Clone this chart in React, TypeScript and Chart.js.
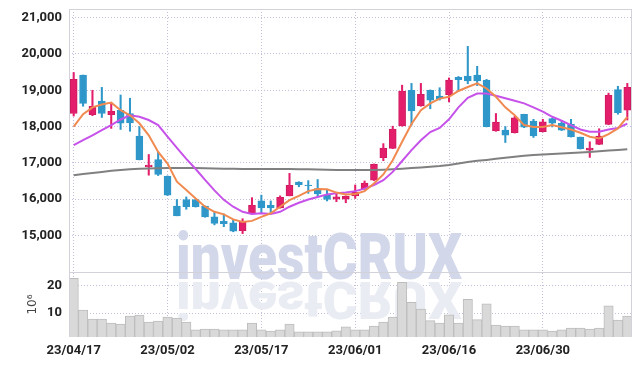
import { useEffect, useRef } from 'react';
import { Chart, registerables } from 'chart.js';
Chart.register(...registerables);

const dates = [
  '23/04/17','23/04/18','23/04/19','23/04/20','23/04/21','23/04/24','23/04/25','23/04/26','23/04/27','23/04/28',
  '23/05/02','23/05/03','23/05/04','23/05/08','23/05/09','23/05/10','23/05/11','23/05/12','23/05/15','23/05/16',
  '23/05/17','23/05/18','23/05/19','23/05/22','23/05/23','23/05/24','23/05/25','23/05/26','23/05/30','23/05/31',
  '23/06/01','23/06/02','23/06/05','23/06/07','23/06/08','23/06/09','23/06/12','23/06/13','23/06/14','23/06/15',
  '23/06/16','23/06/19','23/06/20','23/06/21','23/06/22','23/06/23','23/06/26','23/06/27','23/06/28','23/06/29',
  '23/06/30','23/07/03','23/07/04','23/07/05','23/07/06','23/07/07','23/07/10','23/07/11','23/07/12','23/07/13',
];

const opens = [
  18360, 19420, 18330, 18700, 18330, 18450, 18360, 17740, 16890, 17090,
  16630, 15810, 15990, 15990, 15810, 15510, 15390, 15350, 15130, 15600,
  15950, 15830, 15760, 16090, 16470, 16390, 16290, 16110, 16000, 16000,
  16090, 16280, 16520, 17140, 17400, 18020, 19000, 18570, 19000, 18840,
  18880, 19360, 19390, 19420, 19280, 17880, 17900, 17830, 18340, 18150,
  17860, 18220, 18090, 18060, 17710, 17350, 17510, 18060, 19020, 18450,
];
const highs = [
  19490, 19420, 19000, 19080, 18650, 18870, 18780, 18000, 17230, 17300,
  16640, 15990, 16060, 15990, 15810, 15650, 15590, 15440, 15460, 16040,
  16110, 15950, 16090, 16710, 16480, 16510, 16540, 16250, 16170, 16090,
  16390, 16500, 16970, 17530, 18010, 19140, 19190, 19190, 19010, 19070,
  19340, 19380, 20210, 19660, 19300, 18360, 18000, 18280, 18340, 18200,
  18200, 18230, 18170, 18200, 17710, 17580, 17940, 18920, 19110, 19190,
];
const lows = [
  18290, 18560, 18300, 18250, 17950, 17920, 17870, 17080, 16660, 16650,
  16100, 15540, 15720, 15780, 15500, 15290, 15240, 15100, 15050, 15590,
  15620, 15610, 15750, 16090, 16340, 16160, 16090, 15950, 15930, 15900,
  16020, 16270, 16510, 17060, 17390, 18010, 18040, 18560, 18490, 18730,
  18680, 19000, 19180, 19130, 17990, 17870, 17560, 17820, 17970, 17700,
  17850, 17990, 17890, 17710, 17380, 17150, 17500, 18050, 18340, 18180,
];
const closes = [
  19300, 18640, 18560, 18360, 18420, 18090, 18100, 17090, 16940, 16680,
  16110, 15540, 15790, 15790, 15510, 15330, 15320, 15120, 15390, 15830,
  15760, 15760, 16050, 16380, 16400, 16370, 16140, 15990, 16060, 16080,
  16190, 16440, 16960, 17410, 17930, 18980, 18430, 18890, 18730, 18760,
  19280, 19290, 19260, 19260, 18000, 18120, 17760, 18240, 17980, 17740,
  18130, 18090, 17900, 17720, 17390, 17410, 17740, 18860, 18380, 19080,
];

const ma5 = [
  18000, 18340, 18530, 18610, 18660, 18450, 18310, 18090, 17760, 17300,
  16980, 16480, 16250, 16020, 15790, 15650, 15580, 15440, 15370, 15400,
  15510, 15610, 15790, 15970, 16090, 16220, 16280, 16270, 16180, 16130,
  16140, 16220, 16430, 16680, 17070, 17580, 18070, 18450, 18640, 18770,
  18820, 18980, 19090, 19190, 19050, 18820, 18530, 18310, 18040, 17990,
  17990, 18040, 17980, 17920, 17830, 17720, 17670, 17790, 17950, 18270,
];
const ma20 = [
  17490, 17625, 17760, 17900, 18040, 18195, 18310, 18270, 18180, 18040,
  17720, 17410, 17110, 16830, 16530, 16240, 15980, 15790, 15650, 15590,
  15610, 15590, 15650, 15790, 15900, 15990, 16060, 16130, 16160, 16180,
  16220, 16290, 16390, 16520, 16750, 17050, 17350, 17620, 17850, 17960,
  18200, 18530, 18790, 18910, 18910, 18850, 18780, 18710, 18640, 18530,
  18410, 18270, 18160, 18040, 17920, 17860, 17860, 17920, 17960, 18080,
];
const ma60 = [
  16660, 16690, 16720, 16750, 16780, 16800, 16820, 16835, 16845, 16850,
  16855, 16855, 16855, 16855, 16850, 16845, 16840, 16835, 16830, 16830,
  16830, 16830, 16830, 16830, 16825, 16820, 16815, 16810, 16805, 16800,
  16800, 16800, 16800, 16810, 16825, 16840, 16855, 16870, 16890, 16910,
  16940, 16980, 17020, 17055, 17080, 17110, 17140, 17170, 17195, 17215,
  17230, 17245, 17260, 17270, 17285, 17300, 17320, 17340, 17355, 17375,
];

const volumes = [
  22.8, 11.1, 7.8, 7.8, 6.3, 6.0, 8.9, 9.3, 6.7, 7.1,
  8.5, 8.2, 6.7, 3.8, 4.1, 4.1, 3.8, 3.8, 3.8, 6.3,
  3.8, 3.4, 3.8, 6.0, 3.1, 3.1, 3.1, 3.1, 3.5, 4.9,
  3.8, 3.8, 5.2, 6.7, 8.5, 21.3, 14.0, 11.5, 7.2, 6.3,
  9.4, 6.3, 15.1, 7.6, 13.4, 5.6, 5.2, 5.2, 3.8, 3.8,
  3.8, 3.4, 3.8, 4.5, 4.5, 4.1, 4.5, 12.7, 7.4, 8.9,
];

const priceTicks = [15000, 16000, 17000, 18000, 19000, 20000, 21000];
const volumeTicks = [10, 20];

const UP = '#E31E6B';
const UP_BORDER = '#CC1A5E';
const DOWN = '#2F97C9';
const GRID = 'rgba(185,185,215,0.9)';
const FRAME = '#D2D2DA';
const tickFont = { family: 'Roboto', size: 13, weight: 'bold' as const };

const isUp = (i: number) => closes[i] >= opens[i];

const framePlugin = {
  id: 'frame',
  beforeDatasetsDraw(chart: any) {
    const ctx = chart.ctx;
    const text = 'investCRUX';
    ctx.save();
    ctx.font = '900 64px Roboto';
    const w = ctx.measureText(text).width;
    const sx = 286 / w;
    ctx.textBaseline = 'alphabetic';
    ctx.fillStyle = 'rgb(211,215,234)';
    ctx.translate(168, 271);
    ctx.scale(sx, 1);
    ctx.fillText(text, 0, 0);
    ctx.restore();
    ctx.save();
    ctx.font = '900 64px Roboto';
    ctx.textBaseline = 'alphabetic';
    ctx.fillStyle = 'rgb(234,236,244)';
    ctx.translate(168, 274);
    ctx.scale(sx, -0.8);
    ctx.fillText(text, 0, 0);
    ctx.restore();
  },
  afterDraw(chart: any) {
    const ctx = chart.ctx;
    const a = chart.chartArea;
    const vol = chart.scales.vol;
    ctx.save();
    ctx.strokeStyle = FRAME;
    ctx.lineWidth = 1;
    ctx.setLineDash([]);
    ctx.beginPath();
    ctx.moveTo(Math.round(a.left) + 0.5, a.top);
    ctx.lineTo(Math.round(a.left) + 0.5, a.bottom);
    ctx.moveTo(a.left, Math.round(a.top) + 0.5);
    ctx.lineTo(a.right, Math.round(a.top) + 0.5);
    ctx.moveTo(Math.round(a.right) - 0.5, a.top);
    ctx.lineTo(Math.round(a.right) - 0.5, a.bottom);
    ctx.moveTo(a.left, Math.round(vol.top) + 0.5);
    ctx.lineTo(a.right, Math.round(vol.top) + 0.5);
    ctx.stroke();
    ctx.fillStyle = '#444';
    ctx.font = '12px "DejaVu Sans"';
    ctx.textAlign = 'center';
    ctx.textBaseline = 'middle';
    ctx.translate(25, (vol.top + vol.bottom) / 2);
    ctx.rotate(-Math.PI / 2);
    ctx.fillText('10\u2076', 0, 0);
    ctx.restore();
  },
};

const fitY = (s: any) => {
  s.width = 61;
  s.paddingTop = 0;
  s.paddingBottom = 0;
};

export default function App() {
  const ref = useRef<HTMLCanvasElement | null>(null);
  useEffect(() => {
    if (!ref.current) return;
    const chart = new Chart(ref.current, {
      type: 'bar',
      data: {
        labels: dates,
        datasets: [
          { type: 'line', label: 'MA5', data: ma5, yAxisID: 'price', borderColor: '#F08A50', borderWidth: 2, pointRadius: 0, order: 0 } as any,
          { type: 'line', label: 'MA20', data: ma20, yAxisID: 'price', borderColor: '#C752EA', borderWidth: 2, pointRadius: 0, order: 0 } as any,
          { type: 'line', label: 'MA60', data: ma60, yAxisID: 'price', borderColor: '#808080', borderWidth: 2, pointRadius: 0, order: 0 } as any,
          {
            type: 'bar', label: 'wick', yAxisID: 'price',
            data: lows.map((l, i) => [l, highs[i]]),
            backgroundColor: (c: any) => (isUp(c.dataIndex) ? UP : DOWN),
            barThickness: 1.4, grouped: false, order: 1,
          } as any,
          {
            type: 'bar', label: 'body', yAxisID: 'price',
            data: opens.map((o, i) => [o, closes[i]]),
            backgroundColor: (c: any) => (isUp(c.dataIndex) ? UP : DOWN),
            borderColor: (c: any) => (isUp(c.dataIndex) ? UP_BORDER : DOWN),
            borderWidth: 1, borderSkipped: false,
            barThickness: 7, grouped: false, order: 1,
          } as any,
          {
            type: 'bar', label: 'volume', yAxisID: 'vol', data: volumes,
            backgroundColor: '#D9D9D9', borderColor: '#BDBDBD', borderWidth: 1,
            barPercentage: 1, categoryPercentage: 1, grouped: false, order: 2,
          } as any,
        ],
      },
      options: {
        animation: false,
        responsive: true,
        maintainAspectRatio: false,
        devicePixelRatio: 1,
        layout: { padding: { top: 1, right: 2, left: 0, bottom: 0 } },
        plugins: { legend: { display: false }, tooltip: { enabled: false } },
        scales: {
          x: {
            type: 'category',
            offset: true,
            grid: {
              offset: false,
              drawTicks: false,
              color: (c: any) => (c.index % 10 === 0 ? GRID : 'rgba(0,0,0,0)'),
            },
            border: { display: false, dash: [1, 2] },
            ticks: {
              autoSkip: false, maxRotation: 0, minRotation: 0, padding: 6,
              font: tickFont, color: '#222',
              callback: (_v: any, i: number) => (i % 10 === 0 ? dates[i] : ''),
            },
            afterFit: (s: any) => { s.height = 21; s.paddingLeft = 0; s.paddingRight = 0; },
          },
          vol: {
            type: 'linear', position: 'left', stack: 'panes', stackWeight: 1, weight: 0,
            min: 1.2, max: 25.1,
            afterBuildTicks: (s: any) => { s.ticks = volumeTicks.map((value) => ({ value })); },
            grid: { color: GRID, drawTicks: false },
            border: { display: false, dash: [1, 2] },
            ticks: { padding: 7, font: tickFont, color: '#222', callback: (v: any) => String(v) },
            afterFit: fitY,
          },
          price: {
            type: 'linear', position: 'left', stack: 'panes', stackWeight: 4.05, weight: 1,
            min: 13990, max: 21240,
            afterBuildTicks: (s: any) => { s.ticks = priceTicks.map((value) => ({ value })); },
            grid: { color: GRID, drawTicks: false },
            border: { display: false, dash: [1, 2] },
            ticks: { padding: 7, font: tickFont, color: '#222', callback: (v: any) => Number(v).toLocaleString('en-US') },
            afterFit: fitY,
          },
        } as any,
      },
      plugins: [framePlugin],
    });
    return () => chart.destroy();
  }, []);
  return (
    <div style={{ width: 626, height: 350, position: 'relative' }}>
      <canvas ref={ref} />
    </div>
  );
}
